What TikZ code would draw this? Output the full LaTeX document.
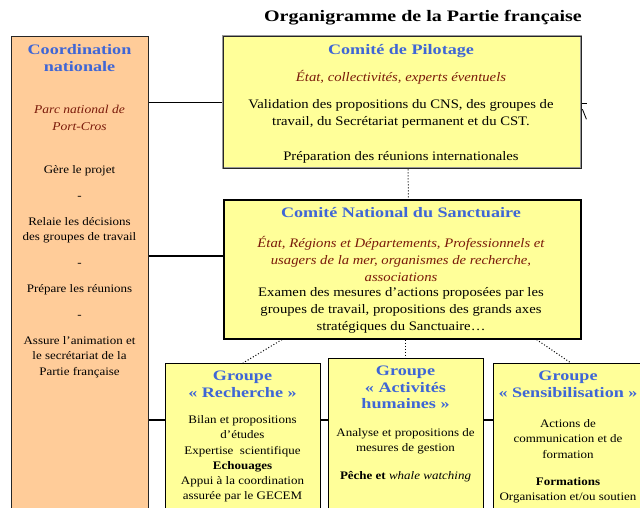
\documentclass[tikz,border=0pt]{standalone}
\usepackage{fontspec}
\setmainfont{Liberation Serif}[FakeStretch=1.13]
\newfontfamily\headfont{Liberation Serif}[FakeStretch=1.25]
\usepackage{xcolor}
\usetikzlibrary{positioning}

\definecolor{peach}{HTML}{FFCC99}
\definecolor{pale}{HTML}{FFFF99}
\definecolor{headblue}{HTML}{3F66D6}
\definecolor{rolered}{HTML}{7A1A0A}

\tikzset{
  coordbox/.style={draw=black!85, line width=0.8pt, fill=peach},
  pilotbox/.style={draw=black!40, line width=2.4pt, fill=pale,
    postaction={draw=black!85, line width=0.6pt}},
  cnsbox/.style={draw=black, line width=1.6pt, fill=pale},
  grpbox/.style={draw=black, line width=0.9pt, fill=pale,
    minimum width=155pt, minimum height=170pt, anchor=north west},
  head/.style={font=\headfont\bfseries\fontsize{14.5}{17}\selectfont, text=headblue, align=center},
  role/.style={font=\itshape\fontsize{13}{17}\selectfont, text=rolered, align=center},
  body/.style={font=\fontsize{13}{17}\selectfont, align=center},
  small/.style={font=\fontsize{11.5}{15.2}\selectfont, align=center},
  link/.style={line width=1.2pt},
  dotlink/.style={line width=1pt, dotted}
}

\begin{document}
\begin{tikzpicture}[x=1pt, y=-1pt, every node/.style={inner sep=0pt}]
    \useasboundingbox (0,0) rectangle (640,508);
    \clip (0,0) rectangle (640,508);

    % title
    \node[font=\headfont\bfseries\fontsize{16}{18}\selectfont] (title) at (423,18) {Organigramme de la Partie française};

    % boxes
    \node[coordbox, minimum width=137pt, minimum height=490pt, anchor=north west] (coord) at (11,36) {};
    \node[pilotbox, minimum width=358pt, minimum height=132pt, anchor=north west] (pilot) at (222,35) {};
    \node[cnsbox, minimum width=357pt, minimum height=139pt, anchor=north west] (cns) at (223,199) {};
    \node[grpbox] (grpRech) at (165,363) {};
    \node[grpbox] (grpAct) at (328,358) {};
    \node[grpbox] (grpSens) at (493,363) {};

    % coordination nationale
    \node[head] (coordHead) at (79.5,58.5) {Coordination\\nationale};
    \node[role, font=\itshape\fontsize{12}{17}\selectfont] (coordRole) at (79.5,117.5) {Parc national de\\Port-Cros};
    \node[small] (coordTasks) at (79.5,271.5) {Gère le projet\\[11pt]-\\[11pt]Relaie les décisions\\des groupes de travail\\[10pt]-\\[11pt]Prépare les réunions\\[11pt]-\\[11pt]Assure l’animation et\\le secrétariat de la\\Partie française};

    % comite de pilotage
    \node[head] (pilotHead) at (401,51) {Comité de Pilotage};
    \node[role] (pilotRole) at (401,77) {État, collectivités, experts éventuels};
    \node[body] (pilotText) at (401,131) {Validation des propositions du CNS, des groupes de\\travail, du Secrétariat permanent et du CST.\\[18pt]Préparation des réunions internationales};

    % comite national du sanctuaire
    \node[head] (cnsHead) at (401,213) {Comité National du Sanctuaire};
    \node[role] (cnsRole) at (401,259) {État, Régions et Départements, Professionnels et\\usagers de la mer, organismes de recherche,\\associations};
    \node[body] (cnsText) at (401,310) {Examen des mesures d’actions proposées par les\\groupes de travail, propositions des grands axes\\stratégiques du Sanctuaire…};

    % groupes
    \node[head] (rechHead) at (242.5,384.5) {Groupe\\«~Recherche~»};
    \node[small] (rechText) at (242.5,459) {Bilan et propositions\\d’études\\Expertise\ \ scientifique\\\textbf{Echouages}\\Appui à la coordination\\assurée par le GECEM};
    \node[head, font=\headfont\bfseries\fontsize{14.5}{16.5}\selectfont] (actHead) at (405.5,387.5) {Groupe\\«~Activités\\humaines~»};
    \node[small] (actText) at (405.5,441.5) {Analyse et propositions de\\mesures de gestion};
    \node[small] (actFish) at (405.5,477) {\textbf{Pêche et} \textit{whale watching}};
    \node[head] (sensHead) at (568,384.5) {Groupe\\«~Sensibilisation~»};
    \node[small] (sensText) at (568,439) {Actions de\\communication et de\\formation};
    \node[small] (sensForm) at (568,490.5) {\textbf{Formations}\\Organisation et/ou soutien};

    % liens
    \coordinate (cLink) at (0,256);
    \coordinate (gLink) at (0,420);
    \draw[link] (coord.east |- pilot.west) -- (pilot.west);
    \draw[link] (coord.east |- cLink) -- (cns.west |- cLink);
    \draw[link] (coord.east |- gLink) -- (grpRech.west |- gLink);
    \draw[link] (grpRech.east |- gLink) -- (grpAct.west |- gLink);
    \draw[link] (grpAct.east |- gLink) -- (grpSens.west |- gLink);
    \draw[link] ([yshift=-1.5pt]pilot.east) -- ++(5,0);
    \draw[line width=0.8pt] ([yshift=-7pt]pilot.east) -- ++(4,10);

    \draw[dotlink] ([xshift=6pt]pilot.south) -- ([xshift=6pt]cns.north);
    \draw[dotlink] ([xshift=59pt]cns.south west) -- (grpRech.north);
    \draw[dotlink] (grpAct.north |- cns.south) -- (grpAct.north);
    \draw[dotlink] ([xshift=-45pt]cns.south east) -- (grpSens.north);
\end{tikzpicture}
\end{document}
